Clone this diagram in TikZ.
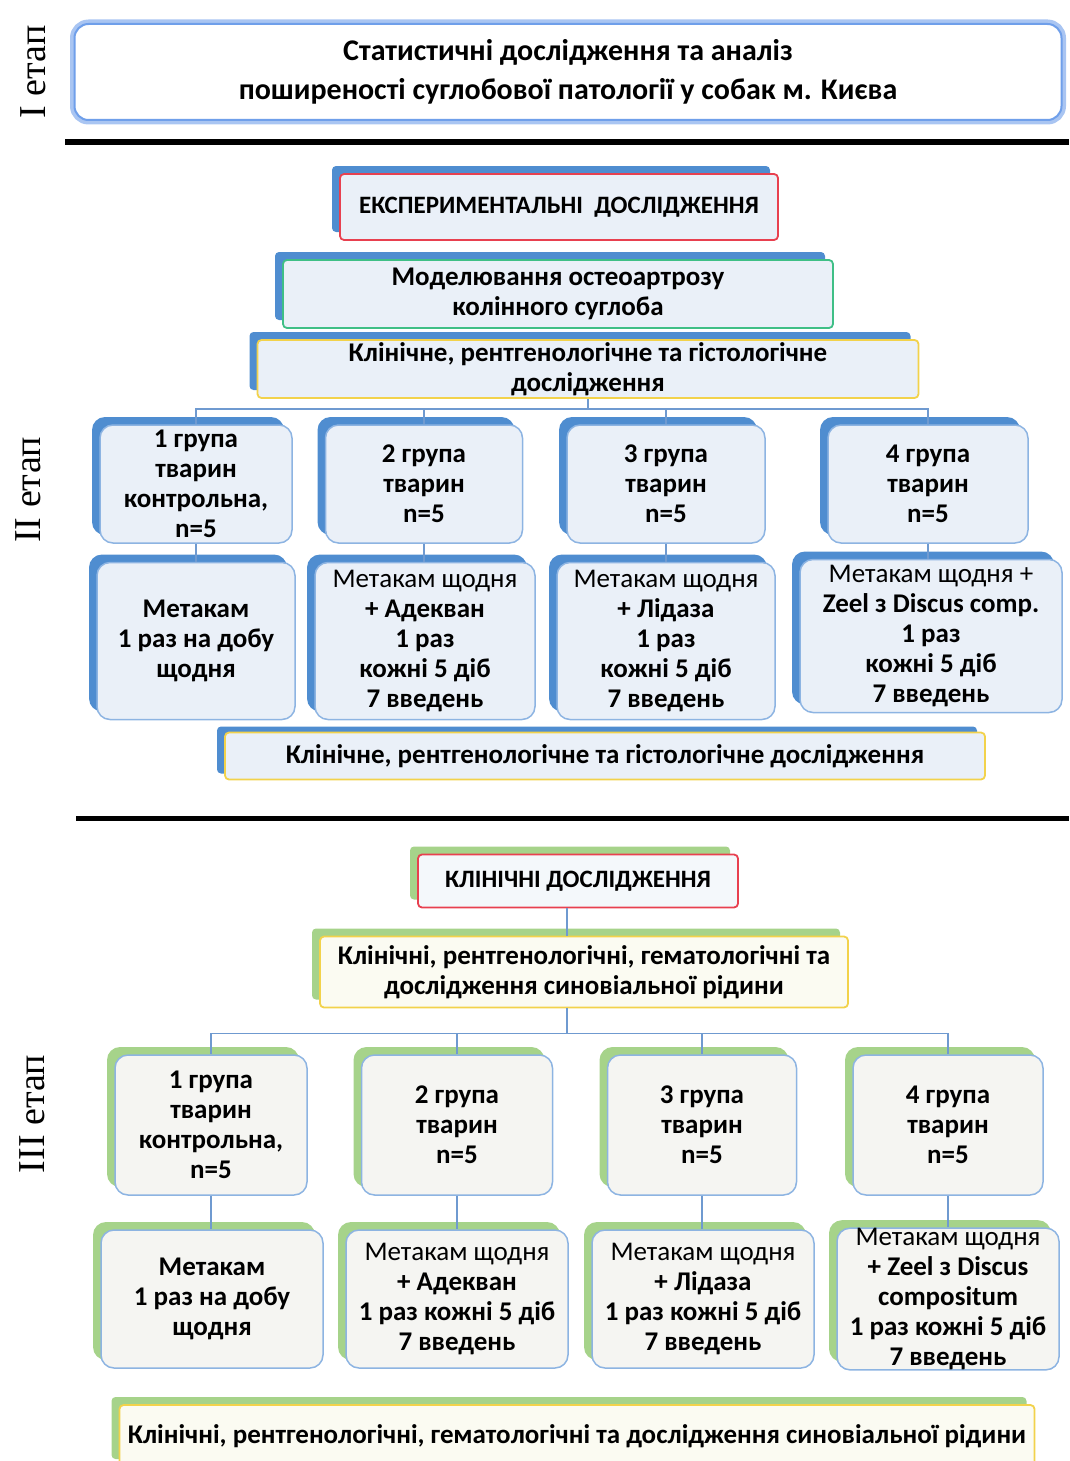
\documentclass[tikz,border=0pt]{standalone}
\usepackage{fontspec}
\setmainfont{Carlito}
\newfontfamily\etapfont{Liberation Serif}
\usetikzlibrary{shadows}

\definecolor{shadeblue}{HTML}{4F8DD0}
\definecolor{shadegreen}{HTML}{A6D38A}
\definecolor{paleblue}{HTML}{EAF0F8}
\definecolor{palegrey}{HTML}{F5F5F2}
\definecolor{paleyellow}{HTML}{FBFBF2}
\definecolor{edgeblue}{HTML}{8DB4E2}
\definecolor{redline}{HTML}{E8404F}
\definecolor{greenline}{HTML}{3FBF86}
\definecolor{yellowline}{HTML}{F2D24B}
\definecolor{linkblue}{HTML}{6F9AD0}
\definecolor{glow}{HTML}{A9C5F2}
\definecolor{glowedge}{HTML}{6F9FEA}

\begin{document}
\begin{tikzpicture}[x=1pt, y=-1pt,
    box/.style={rectangle, rounded corners=4pt, line width=1.8pt, align=center,
      inner sep=0pt, font=\fontsize{27}{30}\selectfont\bfseries},
    capsbox/.style={box, font=\fontsize{25}{30}\selectfont\bfseries},
    blueshade/.style={general shadow={fill=shadeblue, shadow xshift=-8pt, shadow yshift=8pt}},
    greenshade/.style={general shadow={fill=shadegreen, shadow xshift=-8pt, shadow yshift=8pt}},
    grp/.style={box, rounded corners=13pt, draw=edgeblue, line width=1.5pt},
    link/.style={draw=linkblue, line width=1.3pt},
    etap/.style={font=\etapfont\fontsize{38}{38}\selectfont, rotate=90}]
    \useasboundingbox (0,0) rectangle (1069,1461);

    % I etap
    \node[etap] (e1) at (33,72) {I етап};
    \node[box, draw=glowedge, fill=white, rounded corners=14pt, line width=2pt,
      preaction={draw=glow, line width=9pt},
      minimum width=987pt, minimum height=96pt, font=\fontsize{30}{39}\selectfont\bfseries]
      (stat) at (568,72) {Статистичні дослідження та аналіз\\поширеності суглобової патології у собак м. Києва};
    \draw[line width=5pt] (65,142) -- (1069,142);

    % II etap
    \node[etap] (e2) at (28,490) {II етап};
    \node[capsbox, blueshade, draw=redline, fill=paleblue, minimum width=438pt, minimum height=66pt]
      (exp) at (559,207) {ЕКСПЕРИМЕНТАЛЬНІ\ \ ДОСЛІДЖЕННЯ};
    \node[box, blueshade, draw=greenline, fill=paleblue, minimum width=550pt, minimum height=68pt]
      (model) at (558,294) {Моделювання остеоартрозу\\колінного суглоба};
    \node[box, blueshade, draw=yellowline, fill=paleblue, minimum width=661pt, minimum height=58pt]
      (klin2) at (588,369) {Клінічне, рентгенологічне та гістологічне\\дослідження};

    \foreach \name/\x/\w/\txt in {
        g1/196/192/{1 група\\тварин\\контрольна,\\n=5},
        g2/424/197/{2 група\\тварин\\n=5},
        g3/666/198/{3 група\\тварин\\n=5},
        g4/928/200/{4 група\\тварин\\n=5}}
      \node[grp, blueshade, fill=paleblue, minimum width=\w pt, minimum height=118pt] (\name) at (\x,484) {\txt};

    \foreach \name/\x/\y/\w/\h/\txt in {
        t1/196/641/198/157/{Метакам\\1 раз на добу\\щодня},
        t2/425/641/220/157/{{\mdseries Метакам щодня}\\+ Адекван\\1 раз\\кожні 5 діб\\7 введень},
        t3/666/641/218/157/{{\mdseries Метакам щодня}\\+ Лідаза\\1 раз\\кожні 5 діб\\7 введень},
        t4/931/636/262/153/{{\mdseries Метакам щодня +}\\Zeel з Discus comp.\\1 раз\\кожні 5 діб\\7 введень}}
      \node[grp, blueshade, fill=paleblue, minimum width=\w pt, minimum height=\h pt] (\name) at (\x,\y) {\txt};

    \draw[link] (klin2.south) -- ++(0,10) coordinate (bus2);
    \foreach \g in {g1,g2,g3,g4}
      \draw[link] (bus2) -| (\g.north);
    \foreach \i in {1,...,4}
      \draw[link] (g\i.south) -- (g\i.south |- t\i.north);

    \node[box, general shadow={fill=shadeblue, shadow xshift=-8pt, shadow yshift=6pt},
      draw=yellowline, fill=paleblue, minimum width=760pt, minimum height=47pt]
      (klin2b) at (605,756) {Клінічне, рентгенологічне та гістологічне дослідження};
    \draw[line width=5pt] (76,818) -- (1069,818);

    % III etap
    \node[etap] (e3) at (32,1114) {III етап};
    \node[capsbox, greenshade, draw=redline, fill=paleblue!50, minimum width=320pt, minimum height=53pt]
      (klin3a) at (578,881) {КЛІНІЧНІ ДОСЛІДЖЕННЯ};
    \node[box, greenshade, draw=yellowline, fill=paleyellow, minimum width=528pt, minimum height=71pt]
      (klin3) at (584,972) {Клінічні, рентгенологічні, гематологічні та\\дослідження синовіальної рідини};

    \foreach \name/\x/\w/\txt in {
        h1/211/192/{1 група\\тварин\\контрольна,\\n=5},
        h2/457/191/{2 група\\тварин\\n=5},
        h3/702/189/{3 група\\тварин\\n=5},
        h4/948/190/{4 група\\тварин\\n=5}}
      \node[grp, greenshade, fill=palegrey, minimum width=\w pt, minimum height=140pt] (\name) at (\x,1125) {\txt};

    \foreach \name/\x/\txt in {
        u1/212/{Метакам\\1 раз на добу\\щодня},
        u2/457/{{\mdseries Метакам щодня}\\+ Адекван\\1 раз кожні 5 діб\\7 введень},
        u3/703/{{\mdseries Метакам щодня}\\+ Лідаза\\1 раз кожні 5 діб\\7 введень},
        u4/948/{{\mdseries Метакам щодня}\\+ Zeel з Discus\\compositum\\1 раз кожні 5 діб\\7 введень}}
      \node[grp, greenshade, fill=palegrey, minimum width=222pt, minimum height=138pt] (\name) at (\x,1299) {\txt};

    \coordinate (mid3) at (567,0);
    \draw[link] (klin3a.south -| mid3) -- (klin3.north -| mid3);
    \draw[link] (klin3.south -| mid3) -- ++(0,25) coordinate (bus3);
    \foreach \h in {h1,h2,h3,h4}
      \draw[link] (bus3) -| (\h.north);
    \foreach \i in {1,...,4}
      \draw[link] (h\i.south) -- (h\i.south |- u\i.north);

    \node[box, greenshade, draw=yellowline, fill=paleyellow, minimum width=915pt, minimum height=62pt]
      (klin3b) at (577,1436) {Клінічні, рентгенологічні, гематологічні та дослідження синовіальної рідини};
\end{tikzpicture}
\end{document}
